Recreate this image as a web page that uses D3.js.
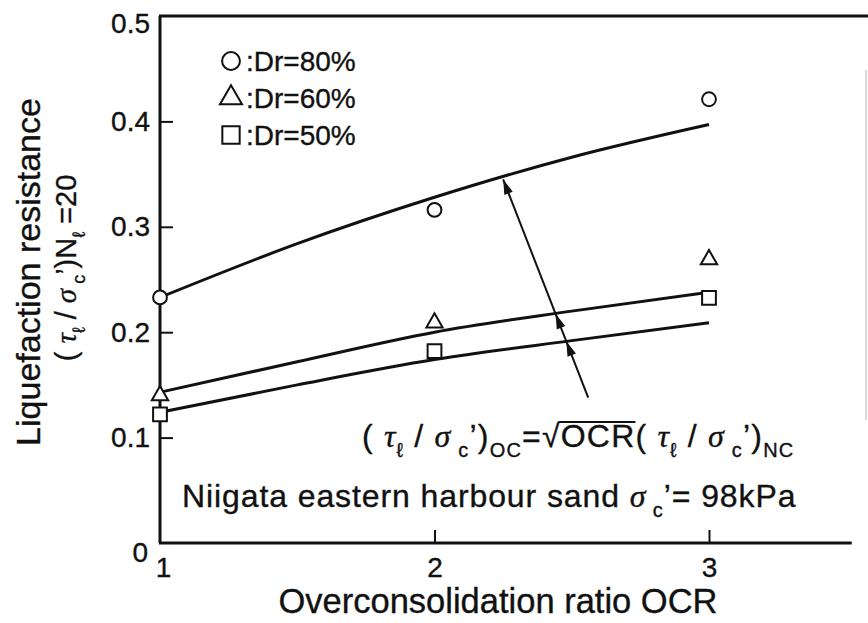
<!DOCTYPE html>
<html>
<head>
<meta charset="utf-8">
<script src="https://cdn.jsdelivr.net/npm/d3@7"></script>
<style>
body { margin: 0; background: #fff; }
svg { display: block; }
text { font-family: "Liberation Sans", Arial, sans-serif; fill: #111; stroke: #111; stroke-width: 0.35px; }
.greek { font-family: "Liberation Serif", serif; font-style: italic; }
</style>
</head>
<body>
<script>
// values
var ocrTicks = [1, 2, 3]
var resTicks = [0, 0.1, 0.2, 0.3, 0.4, 0.5]
var legendLabels = [':Dr=80%', ':Dr=60%', ':Dr=50%']

var testOCR = [1, 2, 3]
var dr80 = [0.233, 0.316, 0.421]
var dr60 = [0.140, 0.209, 0.269]
var dr50 = [0.122, 0.182, 0.2325]

// sqrt(OCR) curves, read at a few OCR values
var curveOCR = [1, 1.5, 2, 2.5, 3]
var fit80 = [0.233, 0.284, 0.328, 0.366, 0.397]
var fit60 = [0.143, 0.172, 0.200, 0.220, 0.238]
var fit50 = [0.124, 0.150, 0.174, 0.192, 0.209]

// arrow of the formula note, in data units [OCR, resistance]
var arrowFrom = [2.56, 0.138]
var arrowTo = [2.25, 0.345]

var width = 868, height = 623

var svg = d3.select('body').append('svg').attr('width', width).attr('height', height)

var x = d3.scaleLinear().domain([1, 3]).range([160, 709])
var y = d3.scaleLinear().domain([0, 0.5]).range([543, 16])

// frame
svg.append('line').attr('x1', x(1)).attr('x2', x(1)).attr('y1', y(0.5)).attr('y2', y(0))
	.attr('stroke', '#111').attr('stroke-width', 3)
svg.append('line').attr('x1', x(1) - 1).attr('x2', width).attr('y1', y(0.5)).attr('y2', y(0.5))
	.attr('stroke', '#111').attr('stroke-width', 3)
svg.append('line').attr('x1', x(1) - 1).attr('x2', x(3.52)).attr('y1', y(0)).attr('y2', y(0))
	.attr('stroke', '#111').attr('stroke-width', 3)
svg.append('line').attr('x1', width - 2).attr('x2', width - 2).attr('y1', 70).attr('y2', 420)
	.attr('stroke', '#ccc').attr('stroke-width', 1.5)

// axes
var xAxis = d3.axisBottom(x).tickValues(ocrTicks).tickSize(-13).tickPadding(14).tickFormat(d3.format('d'))
var yAxis = d3.axisLeft(y).tickValues(resTicks).tickSize(-13).tickPadding(10)
	.tickFormat(function(d) { return d === 0 ? '0' : d3.format('.1f')(d) })

var gx = svg.append('g').attr('transform', 'translate(0,' + y(0) + ')').call(xAxis)
var gy = svg.append('g').attr('transform', 'translate(' + x(1) + ',0)').call(yAxis)
;[gx, gy].forEach(function(g) {
	g.select('.domain').remove()
	g.selectAll('line').attr('stroke', '#111').attr('stroke-width', 2)
	g.selectAll('text').style('font-size', '28px').attr('fill', '#111')
})
gx.selectAll('.tick').filter(function(d) { return d === 1 }).select('line').remove()
gx.selectAll('.tick text').attr('dx', function(d) { return d === 1 ? 3 : 0 })
gy.selectAll('.tick').filter(function(d) { return d === 0 || d === 0.5 }).select('line').remove()
gy.selectAll('.tick text').attr('dy', function(d) {
	if (d === 0) return '0.65em'
	if (d === 0.5) return '0.6em'
	return '0.32em'
}).attr('x', function(d) { return d === 0 ? -12 : -10 })

// fitted curves
var line = d3.line()
	.x(function(d) { return x(d[0]) })
	.y(function(d) { return y(d[1]) })
	.curve(d3.curveMonotoneX)

;[fit80, fit60, fit50].forEach(function(vals) {
	svg.append('path')
		.attr('d', line(curveOCR.map(function(o, i) { return [o, vals[i]] })))
		.attr('fill', 'none').attr('stroke', '#111').attr('stroke-width', 3)
})

// test points
var shapes = [d3.symbolCircle, d3.symbolTriangle, d3.symbolSquare]
var pointSizes = [150, 115, 190]
;[dr80, dr60, dr50].forEach(function(vals, k) {
	svg.append('g').selectAll('path').data(vals).enter().append('path')
		.attr('transform', function(d, i) { return 'translate(' + x(testOCR[i]) + ',' + y(d) + ')' })
		.attr('d', d3.symbol(shapes[k], pointSizes[k]))
		.attr('fill', '#fff').attr('stroke', '#111').attr('stroke-width', 2)
})

// legend
var legendSizes = [250, 210, 300]
var legend = svg.append('g')
legendLabels.forEach(function(lab, i) {
	var ly = 61 + i * 37
	legend.append('path').attr('transform', 'translate(231,' + ly + ')')
		.attr('d', d3.symbol(shapes[i], legendSizes[i]))
		.attr('fill', 'none').attr('stroke', '#111').attr('stroke-width', 2)
	legend.append('text').attr('x', 246).attr('y', ly + 10).style('font-size', '28px').text(lab)
})

// rich text helper: parts = [text, kind] where kind is '', 'g' (greek), 's' (subscript), 'gs'
function rich(parent, px, py, size, parts, transform) {
	var t = parent.append('text').attr('x', px).attr('y', py).style('font-size', size + 'px')
	if (transform) t.attr('transform', transform)
	var shift = 0
	parts.forEach(function(p) {
		var target = p[1].indexOf('s') >= 0 ? Math.round(size * 0.3) : 0
		var sp = t.append('tspan').text(p[0]).attr('dy', target - shift)
		shift = target
		if (p[1].indexOf('s') >= 0) sp.style('font-size', Math.round(size * 0.62) + 'px')
		if (p[1].indexOf('g') >= 0) sp.attr('class', 'greek')
		if (p[2]) sp.attr('id', p[2])
	})
	return t
}

// y axis title
svg.append('text').attr('transform', 'translate(40,272) rotate(-90)')
	.attr('text-anchor', 'middle').style('font-size', '34px').text('Liquefaction resistance')
var yl2 = rich(svg, 0, 0, 29, [['( ', ''], ['τ', 'g'], ['ℓ', 's'], [' / ', ''], ['σ', 'g'], [' c', 's'],
	['\u2019)', ''], ['N', ''], ['ℓ', 's'], [' =20', '']], 'translate(76,268) rotate(-90)')
yl2.attr('text-anchor', 'middle')

// x axis title
svg.append('text').attr('x', 498).attr('y', 613).attr('text-anchor', 'middle')
	.style('font-size', '34.5px').text('Overconsolidation ratio OCR')

// formula note with arrow
var fm = rich(svg, 362, 447, 32, [['( ', ''], ['τ', 'g'], ['ℓ', 's'], [' / ', ''], ['σ', 'g'], [' c', 's'],
	['\u2019)', ''], ['OC', 's'], ['=', ''], ['√', ''], ['OCR', '', 'ocr'], ['( ', ''], ['τ', 'g'], ['ℓ', 's'],
	[' / ', ''], ['σ', 'g'], [' c', 's'], ['\u2019)', ''], ['NC', 's']])
fm.style('letter-spacing', '1.2px')
var ob = d3.select('#ocr').node().getBBox()
svg.append('line').attr('x1', ob.x - 2).attr('x2', ob.x + ob.width).attr('y1', ob.y + 4).attr('y2', ob.y + 4)
	.attr('stroke', '#111').attr('stroke-width', 2)

rich(svg, 182, 507, 32, [['Niigata eastern harbour sand  ', ''], ['σ', 'g'], [' c', 's'], ['\u2019= 98kPa', '']])
	.style('letter-spacing', '0.9px')

var p0 = [x(arrowFrom[0]), y(arrowFrom[1])], p1 = [x(arrowTo[0]), y(arrowTo[1])]
svg.append('line').attr('x1', p0[0]).attr('y1', p0[1]).attr('x2', p1[0]).attr('y2', p1[1])
	.attr('stroke', '#111').attr('stroke-width', 2)

// arrow heads where the arrow meets each curve
var ang = Math.atan2(p1[1] - p0[1], p1[0] - p0[0]) * 180 / Math.PI
function crossing(vals) {
	var f = d3.scaleLinear().domain(curveOCR).range(vals)
	var best = 0, bd = 1e9
	for (var t = 0; t <= 1.0001; t += 0.002) {
		var o = arrowFrom[0] + t * (arrowTo[0] - arrowFrom[0])
		var r = arrowFrom[1] + t * (arrowTo[1] - arrowFrom[1])
		var dd = Math.abs(f(o) - r)
		if (dd < bd) { bd = dd; best = t }
	}
	return [p0[0] + best * (p1[0] - p0[0]), p0[1] + best * (p1[1] - p0[1])]
}
;[crossing(fit80), crossing(fit60), crossing(fit50)].forEach(function(tip) {
	svg.append('path').attr('d', 'M0,0L-15,-4.5L-15,4.5Z')
		.attr('transform', 'translate(' + tip[0] + ',' + tip[1] + ') rotate(' + ang + ')')
		.attr('fill', '#111')
})
</script>
</body>
</html>
